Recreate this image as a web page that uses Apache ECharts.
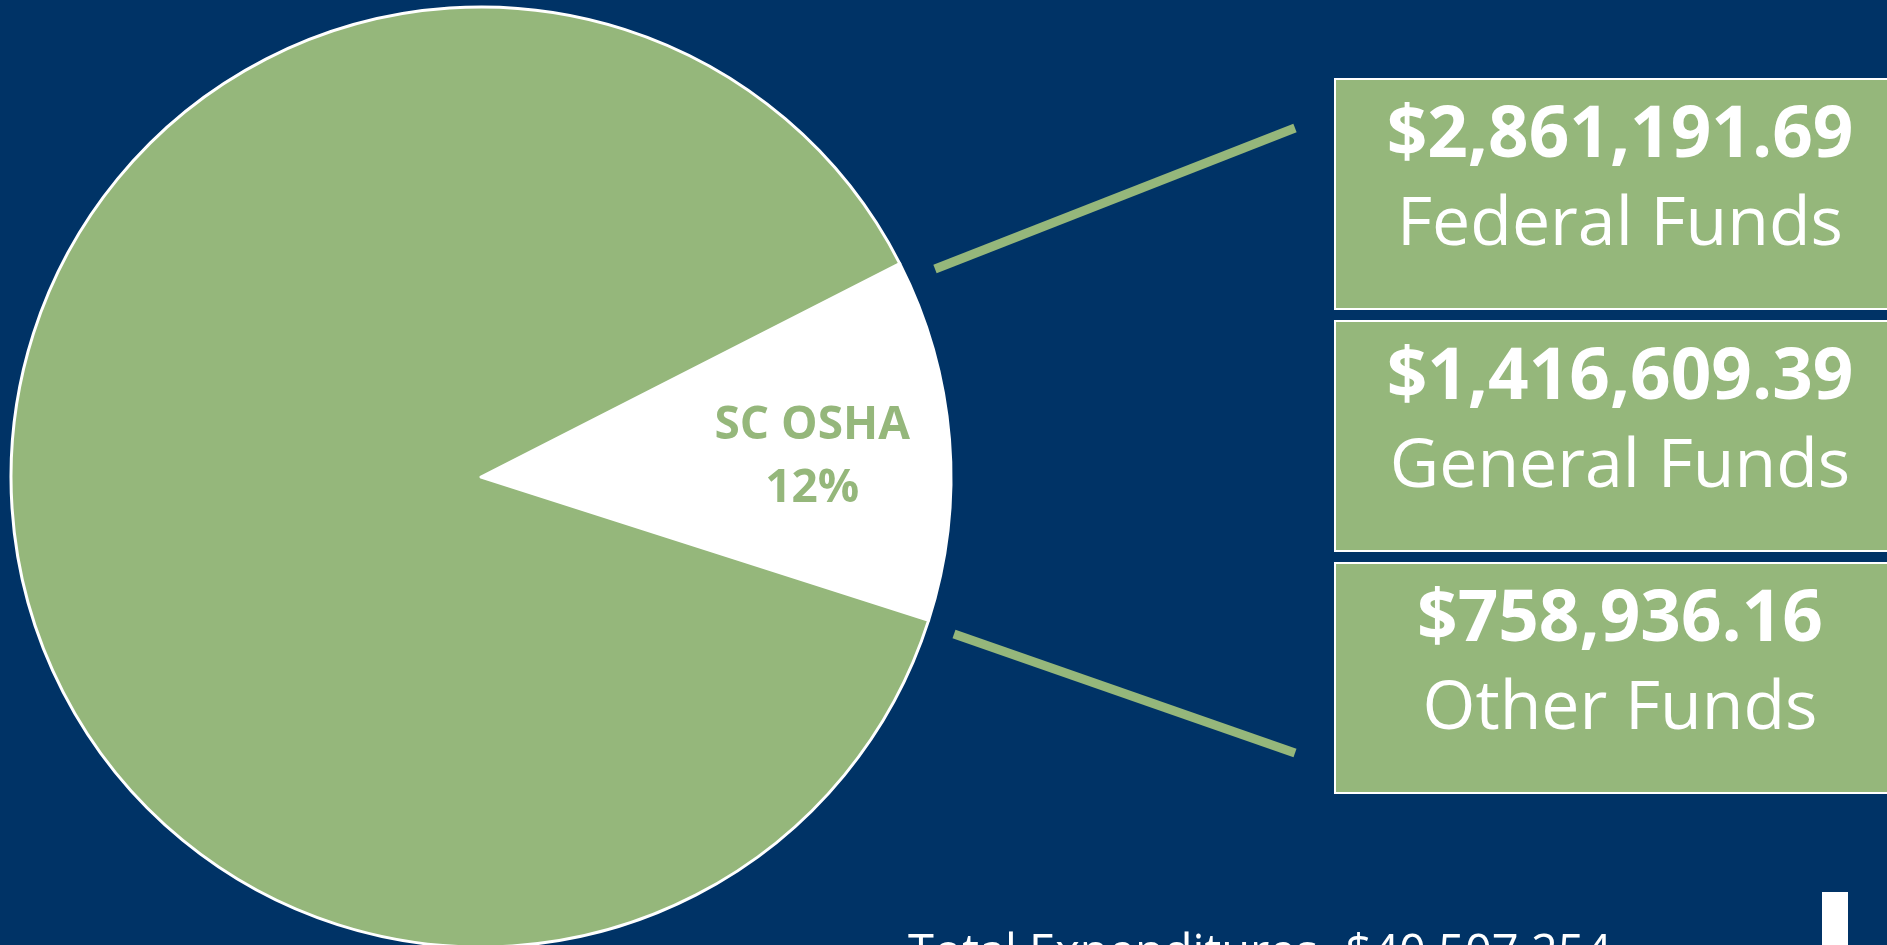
<!DOCTYPE html>
<html>
<head>
<meta charset="utf-8">
<title>SC OSHA Expenditures</title>
<script src="https://cdn.jsdelivr.net/npm/echarts@6/dist/echarts.min.js"></script>
<style>
  html, body { margin: 0; padding: 0; background: #003366; }
  #chart { width: 1887px; height: 945px; }
</style>
</head>
<body>
<div id="chart"></div>
<script>
// pie slices: SC OSHA share of total expenditures
const sliceNames = ['SC OSHA', 'Other']
const sliceValues = [5036737.24, 35470516.76]
const sliceColors = ['#ffffff', '#95b77b']

// fund breakdown boxes
const fundAmounts = ['$2,861,191.69', '$1,416,609.39', '$758,936.16']
const fundNames = ['Federal Funds', 'General Funds', 'Other Funds']
const totalLabel = 'Total Expenditures- $40,507,254'

const GREEN = '#95b77b'
const chart = echarts.init(document.getElementById('chart'))

const boxTops = [79, 321, 563]
const boxes = []
fundAmounts.forEach((amt, i) => {
  const top = boxTops[i]
  boxes.push({
    type: 'rect',
    shape: { x: 1335, y: top, width: 620, height: 230 },
    style: { fill: GREEN, stroke: '#ffffff', lineWidth: 2 }
  })
  boxes.push({
    type: 'text',
    x: 1620, y: top + 58,
    style: {
      text: amt, fill: '#ffffff', align: 'center', verticalAlign: 'middle',
      font: 'bold 71px "Open Sans"'
    }
  })
  boxes.push({
    type: 'text',
    x: 1620, y: top + 147,
    style: {
      text: fundNames[i], fill: '#ffffff', align: 'center', verticalAlign: 'middle',
      font: '68px "Open Sans"'
    }
  })
})

const option = {
  backgroundColor: '#003366',
  animation: false,
  series: [{
    type: 'pie',
    center: [481, 477],
    radius: 470,
    startAngle: 27,
    clockwise: true,
    silent: true,
    itemStyle: { borderColor: '#ffffff', borderWidth: 3 },
    label: { show: false },
    labelLine: { show: false },
    labelLayout: { dx: 94, dy: 0 },
    data: sliceNames.map((n, i) => ({
      name: n,
      value: sliceValues[i],
      itemStyle: { color: sliceColors[i] },
      label: i === 0 ? {
        show: true,
        position: 'inside',
        color: GREEN,
        fontFamily: 'Open Sans',
        fontWeight: 'bold',
        fontSize: 46,
        lineHeight: 63,
        formatter: p => p.name + '\n' + Math.round(p.percent) + '%'
      } : { show: false }
    }))
  }],
  graphic: [
    {
      type: 'line',
      shape: { x1: 935, y1: 269, x2: 1295, y2: 128 },
      style: { stroke: GREEN, lineWidth: 9 }
    },
    {
      type: 'line',
      shape: { x1: 954, y1: 634, x2: 1295, y2: 753 },
      style: { stroke: GREEN, lineWidth: 9 }
    },
    ...boxes,
    {
      type: 'text',
      x: 908, y: 931,
      style: {
        text: totalLabel, fill: '#ffffff', align: 'left', verticalAlign: 'top',
        font: '47px "Open Sans"'
      }
    },
    {
      type: 'rect',
      shape: { x: 1822, y: 892, width: 26, height: 60 },
      style: { fill: '#ffffff' }
    }
  ]
}

chart.setOption(option)
</script>
</body>
</html>
